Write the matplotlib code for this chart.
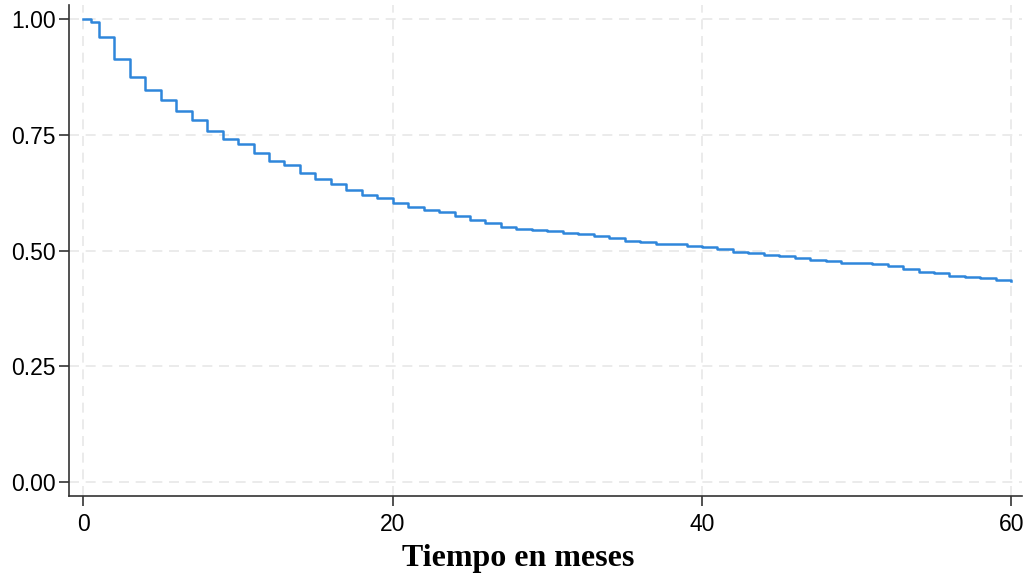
import numpy as np
import matplotlib.pyplot as plt

# Kaplan-Meier style survival estimate
tiempo = [0, 0.5, 1, 2, 3, 4, 5, 6, 7, 8, 9, 10, 11, 12, 13, 14, 15, 16, 17, 18,
          19, 20, 21, 22, 23, 24, 25, 26, 27, 28, 29, 30, 31, 32, 33, 34, 35, 36,
          37, 39, 40, 41, 42, 43, 44, 45, 46, 47, 48, 49, 51, 52, 53, 54, 55, 56,
          57, 58, 59, 60]
supervivencia = [1.000, 0.994, 0.962, 0.914, 0.876, 0.848, 0.826, 0.802, 0.782,
                 0.758, 0.741, 0.730, 0.710, 0.694, 0.684, 0.668, 0.655, 0.644,
                 0.631, 0.621, 0.613, 0.604, 0.594, 0.588, 0.583, 0.575, 0.567,
                 0.559, 0.552, 0.546, 0.544, 0.542, 0.538, 0.535, 0.532, 0.527,
                 0.521, 0.518, 0.514, 0.511, 0.508, 0.504, 0.498, 0.495, 0.491,
                 0.489, 0.484, 0.480, 0.477, 0.474, 0.472, 0.467, 0.460, 0.454,
                 0.451, 0.446, 0.444, 0.441, 0.437, 0.435]

xticks = [0, 20, 40, 60]
yticks = [0.00, 0.25, 0.50, 0.75, 1.00]

fig = plt.figure(figsize=(10.31, 5.83), dpi=100)
ax = fig.add_axes([0.0674, 0.149, 0.924, 0.842])

ax.step(tiempo, supervivencia, where="post", color="#2f86db", lw=1.8)

ax.set_xlim(-0.9, 60.7)
ax.set_ylim(-0.03, 1.03)
ax.set_xticks(xticks)
ax.set_yticks(yticks)
ax.set_yticklabels([f"{v:.2f}" for v in yticks])
ax.grid(True, color="#e8e8e8", linestyle=(0, (6, 4)), lw=1.2)
ax.set_axisbelow(True)

for s in ["top", "right"]:
    ax.spines[s].set_visible(False)
for s in ["left", "bottom"]:
    ax.spines[s].set_color("#333333")
    ax.spines[s].set_linewidth(1.2)

ax.tick_params(direction="out", length=7, width=1.2, color="#333333",
               labelsize=16.5, labelfontfamily="Liberation Sans")
ax.tick_params(axis="y", pad=3)
ax.tick_params(axis="x", pad=5)
ax.set_xlabel("Tiempo en meses", fontsize=23, fontweight="bold",
              family="Liberation Serif")
ax.xaxis.set_label_coords(0.471, -0.098)

fig.savefig("out.png", dpi=100)
